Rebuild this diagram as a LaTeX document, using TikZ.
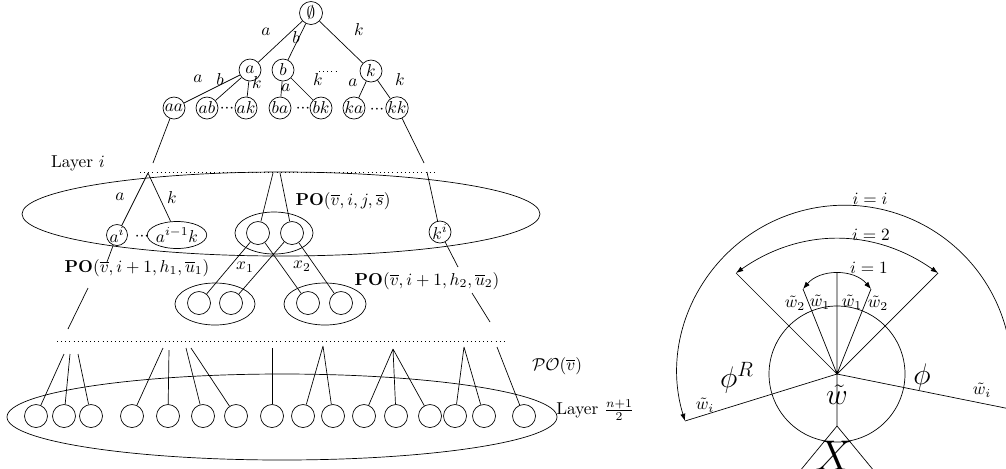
\documentclass[tikz,border=0pt]{standalone}
\usepackage{amsmath}
\usetikzlibrary{shapes.geometric,arrows.meta}
\def\pu{0.58pt}
\begin{document}
\begin{tikzpicture}[x=\pu,y=-\pu,
  tn/.style={circle,draw,inner sep=0pt,minimum size={22*\pu}},
  sn/.style={circle,draw,inner sep=0pt,minimum size={23*\pu}},
  en/.style={ellipse,draw,inner sep=0pt},
  tx/.style={inner sep=0pt},
  tdots/.style={dotted},
  arr/.style={{Latex[length=4.2pt,width=3pt]}-{Latex[length=4.2pt,width=3pt]}},
  larr/.style={{Latex[length=4.2pt,width=3pt]}-},
  big/.style={font=\LARGE}]
\useasboundingbox (0,0) rectangle (1006,468);
\clip (0,0) rectangle (1006,468);
% ---------------- top tree
\node[tn,minimum size={23*\pu}] (r) at (311,13) {$\emptyset$};
\node[tn] (a) at (250,70) {$a$};
\node[tn] (b) at (283,70) {$b$};
\node[tn] (k) at (371,71) {$k$};
\foreach \n/\x in {aa/174,ab/207,ak/246,ba/280,bk/321,ka/354,kk/397}
  \node[tn] (\n) at (\x,108) {$\n$};
\draw (r)--(a) (r)--(b) (r)--(k);
\draw (a)--(aa) (a)--(ab) (a)--(ak);
\draw (b)--(ba) (b)--(bk);
\draw (k)--(ka) (k)--(kk);
\node[tx] (la1) at (266,32) {$a$};
\node[tx] (lb1) at (296,38) {$b$};
\node[tx] (lk1) at (359,30) {$k$};
\node[tx] (la2) at (198,79) {$a$};
\node[tx] (lb2) at (220,80) {$b$};
\node[tx] (lk2) at (257,83) {$k$};
\node[tx] (la3) at (286,88) {$a$};
\node[tx] (lk3) at (318,80) {$k$};
\node[tx] (la4) at (353,83) {$a$};
\node[tx] (lk4) at (400,80) {$k$};
\node[tx] (dt1) at (227,109) {$\mathord{\cdot}\mathord{\cdot}\mathord{\cdot}$};
\node[tx] (dt2) at (303,109) {$\mathord{\cdot}\mathord{\cdot}\mathord{\cdot}$};
\node[tx] (dt3) at (377,110) {$\mathord{\cdot}\mathord{\cdot}\mathord{\cdot}$};
\coordinate (u1) at (319,71);
\coordinate (u2) at (339,71);
\draw[tdots] (u1)--(u2);
\coordinate (q0) at (153,163);
\coordinate (q1) at (424,163);
\draw (aa)--(q0) (kk)--(q1);
% ---------------- layer i
\node[tx] (layi) at (78,163) {Layer $i$};
\coordinate (d1s) at (140,172);
\coordinate (d1e) at (435,172);
\draw[tdots] (d1s)--(d1e);
\node[en,minimum width={518*\pu},minimum height={84*\pu}] (L1) at (281,214) {};
\node[tn,minimum size={21*\pu}] (ai) at (117,235) {$a^i$};
\node[en,minimum width={53*\pu},minimum height={27*\pu}] (aik) at (177,235) {$a^{i-1}k$};
\node[tx] (dt4) at (142,237) {$\mathord{\cdot}\mathord{\cdot}\mathord{\cdot}$};
\coordinate (p1) at (148,173);
\draw (p1)--(ai) (p1)--(aik);
\node[tx] (la5) at (120,197) {$a$};
\node[tx] (lk5) at (172,198) {$k$};
\node[en,minimum width={78*\pu},minimum height={42*\pu}] (g) at (274,233) {};
\node[sn] (g1) at (258,233) {};
\node[sn] (g2) at (292,233) {};
\coordinate (p2) at (273,173);
\coordinate (p3) at (280,173);
\draw (p2)--(g1) (p3)--(g2);
\node[tx] (po1) at (343,201) {$\mathbf{PO}(\overline{v},i,j,\overline{s})$};
\node[tn] (ki) at (440,232) {$k^i$};
\coordinate (p4) at (427,172);
\draw (p4)--(ki);
\coordinate (q2) at (458,267);
\coordinate (q3) at (107,262);
\draw (ki)--(q2) (ai)--(q3);
\node[tx] (po2) at (137,268) {$\mathbf{PO}(\overline{v},i+1,h_1,\overline{u}_1)$};
\node[tx] (po3) at (427,281) {$\mathbf{PO}(\overline{v},i+1,h_2,\overline{u}_2)$};
\coordinate (m1) at (88,288);
\coordinate (m2) at (68,329);
\coordinate (m3) at (472,293);
\coordinate (m4) at (490,322);
\draw (m1)--(m2) (m3)--(m4);
% ---------------- children groups
\node[en,minimum width={80*\pu},minimum height={42*\pu}] (G1) at (215,304) {};
\node[sn] (c11) at (199,303) {};
\node[sn] (c12) at (231,303) {};
\node[en,minimum width={82*\pu},minimum height={42*\pu}] (G2) at (325,304) {};
\node[sn] (c21) at (308,303) {};
\node[sn] (c22) at (341,303) {};
\draw (g1)--(c11) (g1)--(c21) (g2)--(c12) (g2)--(c22);
\node[tx] (x1) at (245,267) {$x_1$};
\node[tx] (x2) at (302,266) {$x_2$};
% ---------------- bottom layer
\coordinate (d2s) at (57,341);
\coordinate (d2e) at (507,341);
\draw[tdots] (d2s)--(d2e);
\node[en,minimum width={550*\pu},minimum height={86*\pu}] (L2) at (282,417) {};
\foreach \i/\x in {1/36,2/64,3/91,4/132,5/168,6/203,7/236,8/272,9/303,10/333,11/364,12/396,13/430,14/455,15/484,16/524}
  \node[sn] (b\i) at (\x,416) {};
\coordinate (s1) at (64,354);
\coordinate (s2) at (70,354);
\coordinate (s3) at (78,354);
\coordinate (s4) at (163,348);
\coordinate (s5) at (169,350);
\coordinate (s6) at (186,348);
\coordinate (s7) at (191,348);
\coordinate (s8) at (272,348);
\coordinate (s9) at (323,346);
\coordinate (s11) at (393,349);
\coordinate (s14) at (464,347);
\coordinate (s16) at (497,347);
\draw (s1)--(b1) (s2)--(b2) (s3)--(b3);
\draw (s4)--(b4) (s5)--(b5) (s6)--(b6) (s7)--(b7);
\draw (s8)--(b8);
\draw (s9)--(b9) (s9)--(b10);
\draw (s11)--(b11) (s11)--(b12) (s11)--(b13);
\draw (s14)--(b14) (s14)--(b15);
\draw (s16)--(b16);
\node[tx] (po4) at (557,366) {$\mathcal{PO}(\overline{v})$};
\node[tx,anchor=west] (layn) at (556,410) {Layer $\frac{n+1}{2}$};
% ---------------- right diagram
\coordinate (W) at (837,374);
\node[circle,draw,inner sep=0pt,minimum size={136*\pu}] (C) at (W) {};
\coordinate (T1) at (837,273);
\coordinate (E1L) at (803,289);
\coordinate (E1R) at (871,289);
\coordinate (E2L) at (736,273);
\coordinate (E2R) at (938,273);
\coordinate (Ei) at (685,421);
\coordinate (Er) at (1030,413);
\coordinate (D) at (837,426);
\coordinate (XL) at (790,483);
\coordinate (XR) at (884,483);
\draw (W)--(T1) (W)--(E1L) (W)--(E1R) (W)--(E2L) (W)--(E2R) (W)--(Ei) (W)--(Er) (W)--(D);
\draw (D)--(XL) (D)--(XR);
\draw[arr] (E1L) to[bend left=50] (E1R);
\draw[arr] (E2L) to[bend left=35] (E2R);
\draw[larr] (Ei) arc[start angle=197, end angle=0, radius={167*\pu}];
\node[tx] (li) at (870,199) {$i=i$};
\node[tx] (l2) at (871,235) {$i=2$};
\node[tx] (l1) at (869,268) {$i=1$};
\node[tx] (w2l) at (795,303) {$\tilde{w}_2$};
\node[tx] (w1l) at (820,302) {$\tilde{w}_1$};
\node[tx] (w1r) at (852,302) {$\tilde{w}_1$};
\node[tx] (w2r) at (878,303) {$\tilde{w}_2$};
\node[tx,big] (phr) at (737,378) {$\phi^R$};
\node[tx,big] (ph) at (922,377) {$\phi$};
\node[tx,big] (wt) at (837,395) {$\tilde{w}$};
\node[tx] (wil) at (705,405) {$\tilde{w}_i$};
\node[tx] (wir) at (982,390) {$\tilde{w}_i$};
\node[tx,font=\Huge] (X) at (834,456) {$X$};
\end{tikzpicture}
\end{document}
